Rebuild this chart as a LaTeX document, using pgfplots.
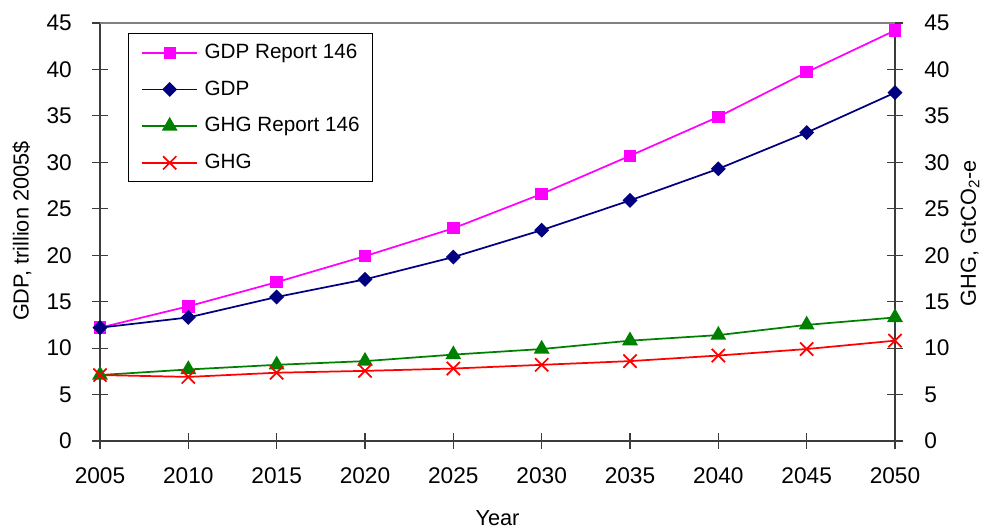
\documentclass[border=0pt]{standalone}
\usepackage{fontspec}
\setmainfont{Liberation Sans}
\usepackage{pgfplots}
\pgfplotsset{compat=1.18}
\definecolor{gdpr}{RGB}{255,0,255}
\definecolor{gdp}{RGB}{0,0,128}
\definecolor{ghgr}{RGB}{0,128,0}
\definecolor{ghg}{RGB}{255,0,0}
\definecolor{axgray}{RGB}{60,60,60}
\begin{document}
\begin{tikzpicture}
\pgfplotsset{
 common/.style={
  scale only axis, width=596.25pt, height=313.5pt,
  xmin=2005, xmax=2050, ymin=0, ymax=45,
  xtick={2005,2010,...,2050}, ytick={0,5,...,45},
  tick align=center, major tick length=12pt,
  tick style={axgray, line width=0.8pt},
  /pgf/number format/assume math mode=true,
  /pgf/number format/1000 sep={},
  ticklabel style={font=\fontsize{17}{20}\selectfont, inner sep=0pt},
  label style={font=\fontsize{16.3}{19}\selectfont},
  axis line style={draw=none},
 }
}
\begin{axis}[common, axis x line=none, axis y line*=right, ytick pos=right,
  yticklabel style={anchor=west, xshift=15.75pt},
  ylabel={GHG, GtCO\textsubscript{2}-e},
  ylabel style={at={(axis description cs:1.0943,0.497)}, anchor=center},
]
\addplot[draw=none] coordinates {(2005,0)};
\end{axis}
\begin{axis}[common,
  xtick pos=bottom, ytick pos=left,
  xticklabel style={anchor=north, yshift=-14pt},
  yticklabel style={anchor=east, xshift=-15pt},
  xlabel={Year}, ylabel={GDP, trillion 2005\$},
  xlabel style={at={(axis description cs:0.5,-0.184)}, anchor=center},
  ylabel style={at={(axis description cs:-0.0981,0.502)}, anchor=center},
  clip=false,
  legend style={at={(axis description cs:0.0348,0.9754)}, anchor=north west,
    draw=black, line width=0.75pt, fill=white,
    font=\fontsize{15.5}{18}\selectfont,
    inner xsep=10pt, inner ysep=7pt, row sep=13pt,
    nodes={inner sep=0pt, text height=11.5pt, text depth=3pt},
    /tikz/every odd column/.append style={column sep=5pt}},
  legend cell align=left,
  legend image code/.code={\draw[mark repeat=2, mark phase=2] plot coordinates {(0pt,0pt) (20.5pt,0pt) (41pt,0pt)};},
]
\draw[axgray, line width=1pt] (rel axis cs:0,1) -- (rel axis cs:0,0) -- (rel axis cs:1,0) -- (rel axis cs:1,1);
\draw[gray, line width=1pt] (rel axis cs:0,1) -- (rel axis cs:1,1);
\addplot[gdpr, line width=1.3pt, mark=square*, mark size=4pt, mark options={solid}] coordinates {
 (2005,12.2) (2010,14.5) (2015,17.1) (2020,19.9) (2025,22.9) (2030,26.6) (2035,30.7) (2040,34.9) (2045,39.7) (2050,44.2)};
\addlegendentry{GDP Report 146}
\addplot[gdp, line width=1.3pt, mark=square*, mark size=3.3pt, mark options={solid, rotate=45}] coordinates {
 (2005,12.2) (2010,13.3) (2015,15.5) (2020,17.4) (2025,19.8) (2030,22.7) (2035,25.9) (2040,29.3) (2045,33.2) (2050,37.5)};
\addlegendentry{GDP}
\addplot[ghgr, line width=1.3pt, mark=triangle*, mark size=5.6pt, mark options={solid}] coordinates {
 (2005,7.1) (2010,7.7) (2015,8.2) (2020,8.6) (2025,9.3) (2030,9.9) (2035,10.8) (2040,11.4) (2045,12.5) (2050,13.3)};
\addlegendentry{GHG Report 146}
\addplot[ghg, line width=1.3pt, mark=x, mark size=7pt, mark options={solid}] coordinates {
 (2005,7.1) (2010,6.9) (2015,7.35) (2020,7.55) (2025,7.8) (2030,8.2) (2035,8.6) (2040,9.2) (2045,9.9) (2050,10.8)};
\addlegendentry{GHG}
\end{axis}
\pgfresetboundingbox
\path[use as bounding box] (-75pt,-67.5pt) rectangle (661.5pt,330.75pt);
\end{tikzpicture}
\end{document}
